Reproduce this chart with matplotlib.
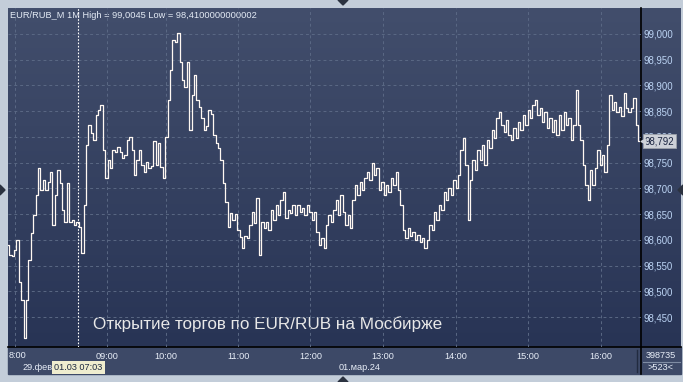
import numpy as np
import matplotlib
matplotlib.use("Agg")
import matplotlib.pyplot as plt
from matplotlib.colors import LinearSegmentedColormap
from matplotlib.patches import Rectangle
from matplotlib.transforms import blended_transform_factory

plt.rcParams["font.family"] = ["Liberation Sans", "DejaVu Sans"]

# EUR/RUB_M 1M closes, sampled every 2 bars (evening 29.02, then 01.03 from 07:03)
close_feb29 = [
    98.590, 98.570, 98.568, 98.580, 98.600, 98.518, 98.483, 98.410, 98.483, 98.560,
    98.613, 98.648, 98.687, 98.740, 98.696, 98.716, 98.696, 98.712, 98.732, 98.629,
    98.687, 98.736, 98.710, 98.658, 98.635, 98.710, 98.635, 98.638, 98.629, 98.635,
]
close_mar01 = [
    98.625, 98.574, 98.668, 98.784, 98.823, 98.807, 98.794, 98.843, 98.852, 98.862,
    98.775, 98.720, 98.755, 98.740, 98.775, 98.771, 98.780, 98.771, 98.759, 98.765,
    98.794, 98.800, 98.775, 98.726, 98.755, 98.775, 98.745, 98.732, 98.751, 98.740,
    98.743, 98.792, 98.745, 98.788, 98.741, 98.720, 98.800, 98.872, 98.930, 98.988,
    98.985, 99.002, 98.946, 98.911, 98.897, 98.946, 98.813, 98.881, 98.920, 98.872,
    98.858, 98.837, 98.813, 98.821, 98.852, 98.845, 98.804, 98.788, 98.778, 98.755,
    98.710, 98.673, 98.625, 98.652, 98.638, 98.650, 98.620, 98.605, 98.584, 98.607,
    98.603, 98.629, 98.654, 98.633, 98.681, 98.570, 98.635, 98.623, 98.635, 98.620,
    98.658, 98.638, 98.668, 98.648, 98.677, 98.693, 98.642, 98.658, 98.652, 98.668,
    98.648, 98.668, 98.654, 98.662, 98.648, 98.668, 98.654, 98.638, 98.654, 98.615,
    98.590, 98.603, 98.584, 98.629, 98.648, 98.635, 98.658, 98.677, 98.648, 98.687,
    98.654, 98.629, 98.648, 98.623, 98.677, 98.706, 98.687, 98.712, 98.696, 98.720,
    98.732, 98.716, 98.749, 98.726, 98.740, 98.696, 98.712, 98.687, 98.706, 98.693,
    98.720, 98.706, 98.732, 98.696, 98.668, 98.620, 98.603, 98.623, 98.607, 98.615,
    98.600, 98.610, 98.596, 98.603, 98.584, 98.600, 98.629, 98.620, 98.654, 98.638,
    98.668, 98.658, 98.693, 98.677, 98.700, 98.687, 98.716, 98.700, 98.726, 98.775,
    98.798, 98.745, 98.638, 98.716, 98.755, 98.736, 98.775, 98.755, 98.784, 98.745,
    98.794, 98.778, 98.813, 98.798, 98.837, 98.848, 98.823, 98.810, 98.833, 98.804,
    98.794, 98.817, 98.798, 98.829, 98.813, 98.843, 98.823, 98.852, 98.837, 98.862,
    98.872, 98.843, 98.856, 98.829, 98.848, 98.817, 98.837, 98.810, 98.833, 98.804,
    98.843, 98.813, 98.848, 98.823, 98.837, 98.794, 98.823, 98.891, 98.823, 98.794,
    98.745, 98.706, 98.677, 98.736, 98.706, 98.740, 98.775, 98.745, 98.765, 98.732,
    98.784, 98.881, 98.852, 98.868, 98.848, 98.858, 98.841, 98.885, 98.856, 98.848,
    98.856, 98.876, 98.823, 98.792,
]
close = close_feb29 + close_mar01
bars = np.arange(len(close)) * 2  # one sample every 2 one-minute bars

open_bar = 58.3  # 01.03 07:03, start of trading
time_ticks = [5.8, 82.5, 131.7, 191.7, 252.0, 312.5, 373.0, 433.0, 494.0]
time_labels = ["", "09:00", "10:00", "11:00", "12:00", "13:00", "14:00", "15:00", "16:00"]
price_ticks = [99.00, 98.95, 98.90, 98.85, 98.80, 98.75, 98.70, 98.65, 98.60, 98.55, 98.50, 98.45]
price_labels = ["99,000", "98,950", "98,900", "98,850", "98,800", "98,750",
                "98,700", "98,650", "98,600", "98,550", "98,500", "98,450"]
last_label = "98,792"

fig = plt.figure(figsize=(6.83, 3.82), dpi=100)
fig.patch.set_facecolor("#c3cdd9")

# chrome drawn in pixel coordinates
bg = fig.add_axes([0, 0, 1, 1])
bg.set_xlim(0, 683)
bg.set_ylim(382, 0)
bg.axis("off")
grad = LinearSegmentedColormap.from_list("g", ["#424e6c", "#283455"])
bg.imshow(np.linspace(0, 1, 256).reshape(-1, 1), extent=(8, 681, 347, 8),
          cmap=grad, aspect="auto", zorder=0)
bg.add_patch(Rectangle((8, 347), 673, 27, color="#3d4967", zorder=1))
bg.plot([8, 681], [347, 347], color="black", lw=1.2, zorder=3)
bg.plot([640.5, 640.5], [8, 374], color="black", lw=1.2, zorder=3)
bg.plot([637, 637], [350, 372], color="#222b40", lw=1, zorder=3)
bg.plot([643, 680], [361.5, 361.5], color="#7f8ca3", lw=0.8, zorder=3)
for xs, ys in [([338, 348, 343], [0, 0, 5]), ([338, 348, 343], [382, 382, 377]),
               ([0, 0, 5], [185, 195, 190]), ([683, 683, 678], [185, 195, 190])]:
    bg.fill(xs, ys, color="#2b3240", zorder=3)

bg.text(10, 15, "EUR/RUB_M 1M High = 99,0045 Low = 98,4100000000002",
        color="#e4ebf5", fontsize=6.7, va="center", ha="left", zorder=4)
bg.text(93, 324, "Открытие торгов по EUR/RUB на Мосбирже",
        color="#e8e8e8", fontsize=12.3, va="center", ha="left", zorder=4)
bg.text(9, 355.5, "8:00", color="#e8eef8", fontsize=6.6, va="center", ha="left", zorder=4)
bg.text(22, 367.5, "29.фев", color="#e8eef8", fontsize=6.6, va="center", ha="left", zorder=4)
bg.text(54.5, 367.5, "01.03 07:03", color="#1e2a40", fontsize=6.6, va="center", ha="left",
        zorder=5, bbox=dict(boxstyle="square,pad=0.25", fc="#efedcf", ec="none"))
bg.text(360, 367.5, "01.мар.24", color="#e8eef8", fontsize=6.6, va="center", ha="center", zorder=4)
bg.text(661, 355, "398735", color="#e8eef8", fontsize=6.6, va="center", ha="center", zorder=4)
bg.text(661, 368, ">523<", color="#e8eef8", fontsize=6.6, va="center", ha="center", zorder=4)

# price chart
ax = fig.add_axes([8 / 683, 35 / 382, 632.5 / 683, 339 / 382])
ax.patch.set_alpha(0)
for s in ax.spines.values():
    s.set_visible(False)
ax.plot(bars, close, color="#fff8f2", lw=0.9, drawstyle="steps-mid", zorder=3)
ax.axvline(open_bar, color="white", lw=0.8, ls=(0, (1.5, 1.5)), zorder=2)
ax.set_xlim(0, 527.1)
ax.set_ylim(98.3917, 99.0505)

ax.set_yticks(price_ticks)
ax.set_yticklabels(price_labels)
ax.yaxis.tick_right()
ax.tick_params(axis="y", length=0, pad=1.8, labelsize=6.9, labelcolor="#bcd4f4")
ax.set_xticks(time_ticks)
ax.set_xticklabels(time_labels)
ax.tick_params(axis="x", length=0, pad=3.6, labelsize=6.6, labelcolor="#e8eef8")
ax.grid(True, color="#5a6884", linestyle=(0, (3, 3)), linewidth=0.7, zorder=1)

# current price marker
tr = blended_transform_factory(ax.transAxes, ax.transData)
ax.text(1.0065, close[-1], last_label, transform=tr, ha="left", va="center",
        fontsize=6.9, color="#1a2440", zorder=6, clip_on=False,
        bbox=dict(boxstyle="square,pad=0.18", fc="#cdd1d8", ec="#9aa0aa", lw=0.6))
ax.plot([1.004], [close[-1]], marker="<", ms=3.5, color="#cdd1d8", transform=tr,
        clip_on=False, zorder=6)

fig.savefig("out.png", dpi=100, facecolor=fig.get_facecolor())
